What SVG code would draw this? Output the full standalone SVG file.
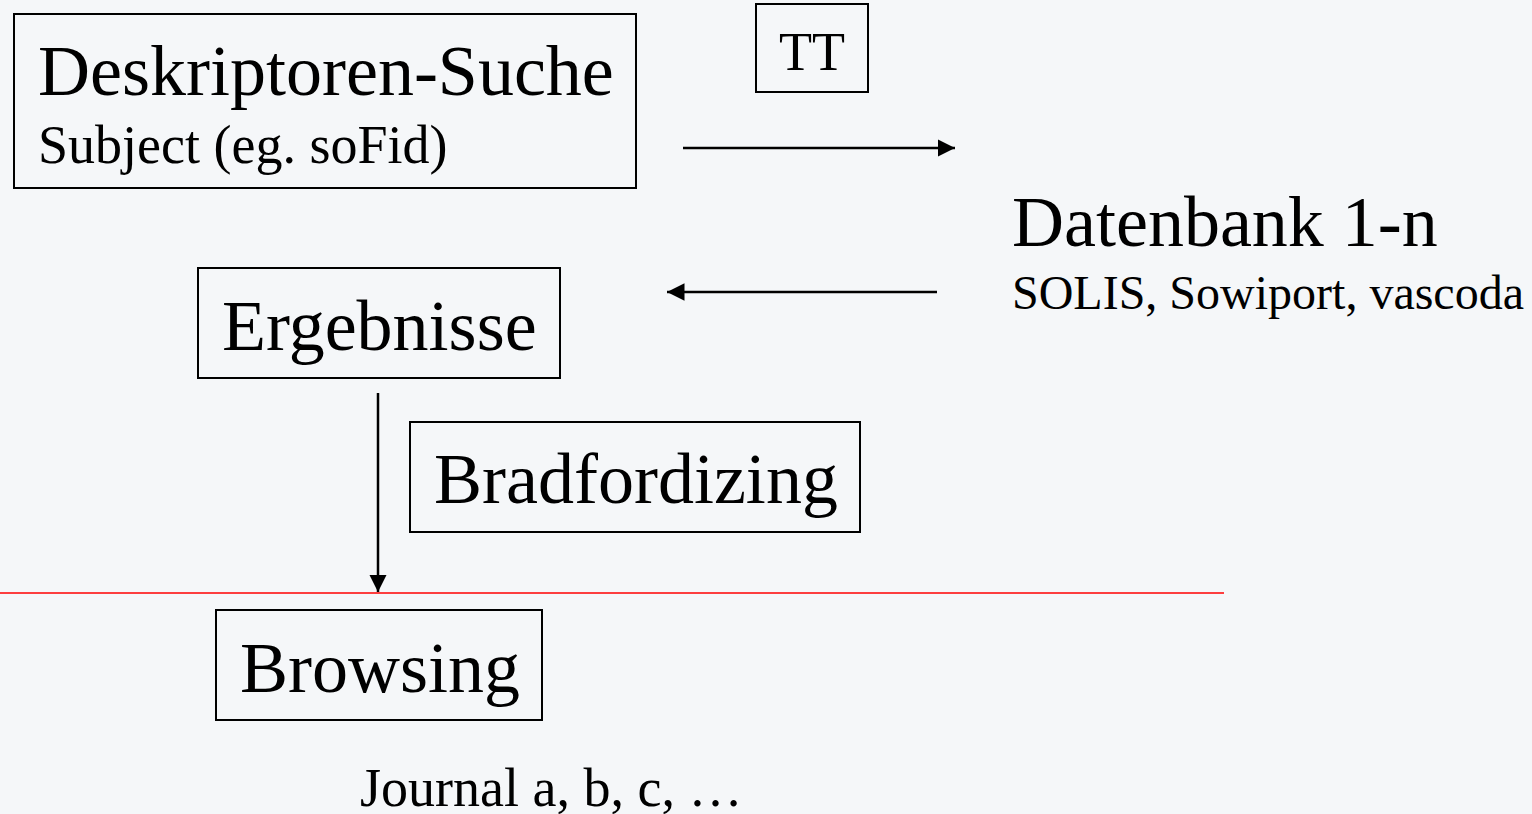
<svg xmlns="http://www.w3.org/2000/svg" width="1532" height="814" viewBox="0 0 1532 814">
<style>
.box{fill:none;stroke:#000;stroke-width:2}
.t{font-family:"Liberation Serif","Times New Roman",serif;fill:#000}
.big{font-size:72px}
.sm{font-size:54px}
.md{font-size:48px}
.conn{stroke:#000;stroke-width:2.5;fill:none}
</style>
<defs>
<marker id="ah" viewBox="0 0 10 10" refX="10" refY="5" markerWidth="7" markerHeight="7" markerUnits="strokeWidth" orient="auto">
<path d="M0,0 L10,5 L0,10 z" fill="#000"/>
</marker>
</defs>
<rect width="1532" height="814" fill="#f5f7f9"/>
<g id="deskriptoren">
<rect class="box" x="14" y="14" width="622" height="174"/>
<text class="t big" x="38" y="95">Deskriptoren-Suche</text>
<text class="t sm" x="38" y="163">Subject (eg. soFid)</text>
</g>
<g id="tt">
<rect class="box" x="756" y="4" width="112" height="88"/>
<text class="t sm" x="779" y="70">TT</text>
</g>
<g id="datenbank">
<text class="t big" x="1012" y="246">Datenbank 1-n</text>
<text class="t md" x="1012" y="309">SOLIS, Sowiport, vascoda</text>
</g>
<g id="ergebnisse">
<rect class="box" x="198" y="268" width="362" height="110"/>
<text class="t big" x="222" y="350">Ergebnisse</text>
</g>
<g id="bradfordizing">
<rect class="box" x="410" y="422" width="450" height="110"/>
<text class="t big" x="434" y="503">Bradfordizing</text>
</g>
<g id="browsing">
<rect class="box" x="216" y="610" width="326" height="110"/>
<text class="t big" x="240" y="692">Browsing</text>
</g>
<g id="journal">
<text class="t sm" x="360" y="806">Journal a, b, c, …</text>
</g>
<g id="separator">
<line x1="0" y1="593" x2="1224" y2="593" stroke="#ff0000" stroke-width="1.5"/>
</g>
<g id="connectors">
<line class="conn" x1="683" y1="148" x2="955" y2="148" marker-end="url(#ah)"/>
<line class="conn" x1="937" y1="292" x2="667" y2="292" marker-end="url(#ah)"/>
<line class="conn" x1="378" y1="393" x2="378" y2="592" marker-end="url(#ah)"/>
</g>
</svg>
